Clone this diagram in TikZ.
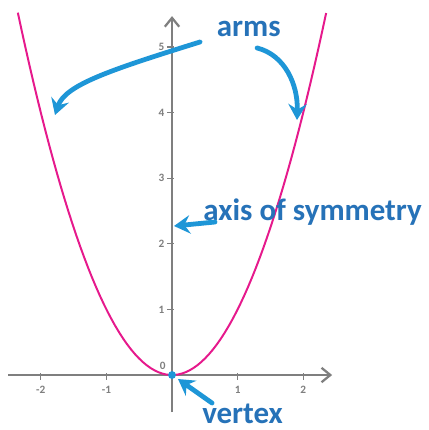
\documentclass[tikz,border=0pt]{standalone}
\usepackage{fontspec}
\setsansfont{Carlito}
\usepackage{tikz}
\usetikzlibrary{arrows.meta,positioning,calc}
\definecolor{cAxis}{HTML}{7f7f7f}
\definecolor{cCurve}{HTML}{e6198c}
\definecolor{cArrow}{HTML}{1e96d7}
\definecolor{cText}{HTML}{2672b8}
\tikzset{
  axisline/.style={cAxis,line width=2pt,-{Straight Barb[length=2.2mm,width=3.6mm,line width=1.6pt]}},
  tick/.style={cAxis,line width=0.8pt},
  ticklabel/.style={font=\sffamily\fontsize{8}{9}\selectfont\bfseries,text=cAxis,inner sep=1pt},
  curve/.style={cCurve,line width=1.4pt},
  callout/.style={font=\sffamily\bfseries\fontsize{22}{26}\selectfont,text=cText,inner sep=0pt},
  pointer/.style={cArrow,line width=3.4pt,line cap=round,-{Stealth[length=4mm,width=4.6mm,inset=1.4mm]}},
}

\begin{document}
\begin{tikzpicture}[x=1.64cm,y=1.64cm]
  \useasboundingbox[fill=white] (-2.622,-0.838) rectangle (3.902,5.716);
  % axes
  \draw[axisline] (-2.5,0) -- (2.44,0);
  \draw[axisline] (0,-0.564) -- (0,5.47);
  \foreach \i in {-2,-1,1,2}{
    \draw[tick] (\i,0.03) -- (\i,-0.07);
    \node[ticklabel] (xl\i) at (\i,-0.23) {\i};
  }
  \foreach \j in {1,...,5}{
    \draw[tick] (-0.07,\j) -- (0.03,\j);
    \node[ticklabel,anchor=east] (yl\j) at (-0.09,\j) {\j};
  }
  \node[ticklabel] (zero) at (-0.14,0.14) {0};
  % the parabola y = x^2
  \draw[curve,domain=-2.35:2.35,samples=80] plot (\x,{\x*\x});
  % labels
  \node[callout] (arms) at (1.17,5.274) {arms};
  \node[callout] (axis) at (2.142,2.485) {axis of symmetry};
  \node[callout] (vertex) at (1.075,-0.59) {vertex};
  % ends of the pointers
  \coordinate (armsA) at (0.427,5.076);
  \coordinate (armsB) at (1.296,4.985);
  \coordinate (armL) at (-1.784,3.963);
  \coordinate (armR) at (1.905,3.887);
  \coordinate (axisA) at (0.655,2.332);
  \coordinate (axisB) at (0.03,2.271);
  \coordinate (vertA) at (0.61,-0.427);
  \coordinate (vertB) at (0.091,-0.061);
  \coordinate (origin) at (0,0);
  \draw[pointer] (armsA) .. controls (-0.945,4.649) and (-1.631,4.421) .. (armL);
  \draw[pointer] (armsB) .. controls (1.723,4.878) and (1.921,4.421) .. (armR);
  \draw[pointer] (axisA) -- (axisB);
  \draw[pointer] (vertA) -- (vertB);
  \fill[cArrow] (origin) circle (0.06);
\end{tikzpicture}
\end{document}
